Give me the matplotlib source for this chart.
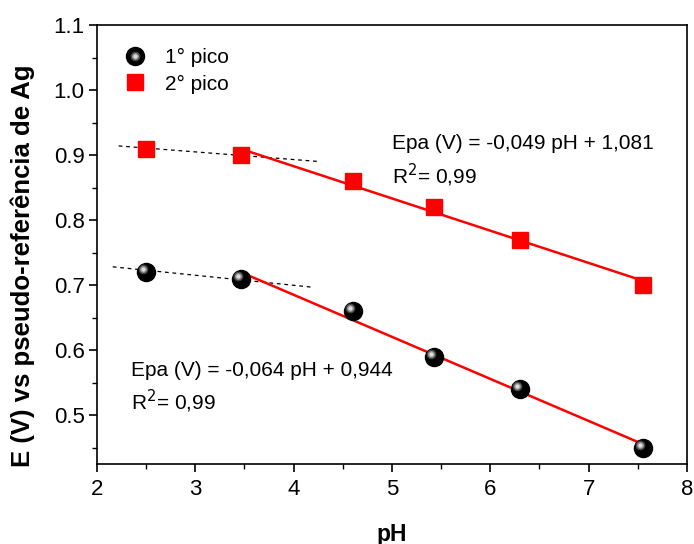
import numpy as np
import matplotlib
matplotlib.use("Agg")
import matplotlib.pyplot as plt
from matplotlib.transforms import offset_copy
from matplotlib.legend_handler import HandlerTuple
from matplotlib.lines import Line2D

plt.rcParams['font.family'] = ['Liberation Sans', 'DejaVu Sans']

ph = [2.5, 3.46, 4.6, 5.43, 6.3, 7.55]
pico1 = [0.72, 0.71, 0.66, 0.59, 0.54, 0.45]
pico2 = [0.91, 0.90, 0.86, 0.82, 0.77, 0.70]
dot_x1 = [2.16, 4.20]
dot_y1 = [0.728, 0.6965]
dot_x2 = [2.22, 4.26]
dot_y2 = [0.914, 0.890]
eq1 = "Epa (V) = -0,064 pH + 0,944"
eq2 = "Epa (V) = -0,049 pH + 1,081"

fig = plt.figure(figsize=(6.94, 5.44), dpi=100)
ax = fig.add_axes([0.1398, 0.147, 0.850, 0.807])

# fit lines (from second point on)
x = np.array(ph[1:])
for ys in (pico1, pico2):
    m, b = np.polyfit(x, np.array(ys[1:]), 1)
    ax.plot([x[0], x[-1]], [m * x[0] + b, m * x[-1] + b], color='red', lw=1.8, zorder=2)

ax.plot(dot_x1, dot_y1, color='black', lw=0.9, ls=(0, (3, 3)), zorder=1)
ax.plot(dot_x2, dot_y2, color='black', lw=0.9, ls=(0, (3, 3)), zorder=1)

# glossy spheres
hl = [(7, '#555555', 0.8), (5, '#999999', 0.9), (3, '#dddddd', 1.0)]
ax.plot(ph, pico1, 'o', color='black', ms=13, mec='black', zorder=3)
for ms, col, alpha in hl:
    tr = offset_copy(ax.transData, fig=fig, x=-2.2, y=2.0, units='points')
    ax.plot(ph, pico1, 'o', color=col, ms=ms, mew=0, alpha=alpha, transform=tr, zorder=4)

ax.plot(ph, pico2, 's', color='red', ms=12, mec='red', zorder=3)

h1 = tuple([Line2D([], [], marker='o', color='black', ms=13, ls='')] +
           [Line2D([], [], marker='o', color=c, ms=m, mew=0, alpha=a, ls='') for m, c, a in hl])
h2 = Line2D([], [], marker='s', color='red', ms=12, ls='')
ax.legend([h1, h2], ['1° pico', '2° pico'], handler_map={tuple: HandlerTuple(ndivide=1, pad=0)},
          loc='upper left', bbox_to_anchor=(0.005, 0.99), frameon=False, fontsize=15,
          handletextpad=0.62, labelspacing=0.36, handlelength=1.6)

ax.text(5.0, 0.918, eq2, fontsize=15, va='center')
ax.text(5.0, 0.868, 'R$^2$= 0,99', fontsize=15, va='center')
ax.text(2.35, 0.569, eq1, fontsize=15, va='center')
ax.text(2.35, 0.521, 'R$^2$= 0,99', fontsize=15, va='center')

ax.set_xlim(2, 8)
ax.set_ylim(0.4246, 1.1)
ax.set_xticks([2, 3, 4, 5, 6, 7, 8])
ax.set_xticks(np.arange(2.5, 8, 1), minor=True)
ax.set_yticks([0.5, 0.6, 0.7, 0.8, 0.9, 1.0, 1.1])
ax.set_yticks([0.45, 0.55, 0.65, 0.75, 0.85, 0.95, 1.05], minor=True)
ax.tick_params(which='major', direction='out', length=6, width=1.2, labelsize=16)
ax.tick_params(which='minor', direction='out', length=3.5, width=1.0)
ax.tick_params(axis='x', pad=5)
ax.tick_params(axis='y', pad=3)
for s in ax.spines.values():
    s.set_linewidth(1.2)

ax.set_xlabel('pH', fontsize=16.5, fontweight='bold', labelpad=16)
ax.set_ylabel('E (V) vs pseudo-referência de Ag', fontsize=18.5, fontweight='bold')
ax.yaxis.set_label_coords(-0.105, 0.451)

fig.savefig('out.png', dpi=100)
